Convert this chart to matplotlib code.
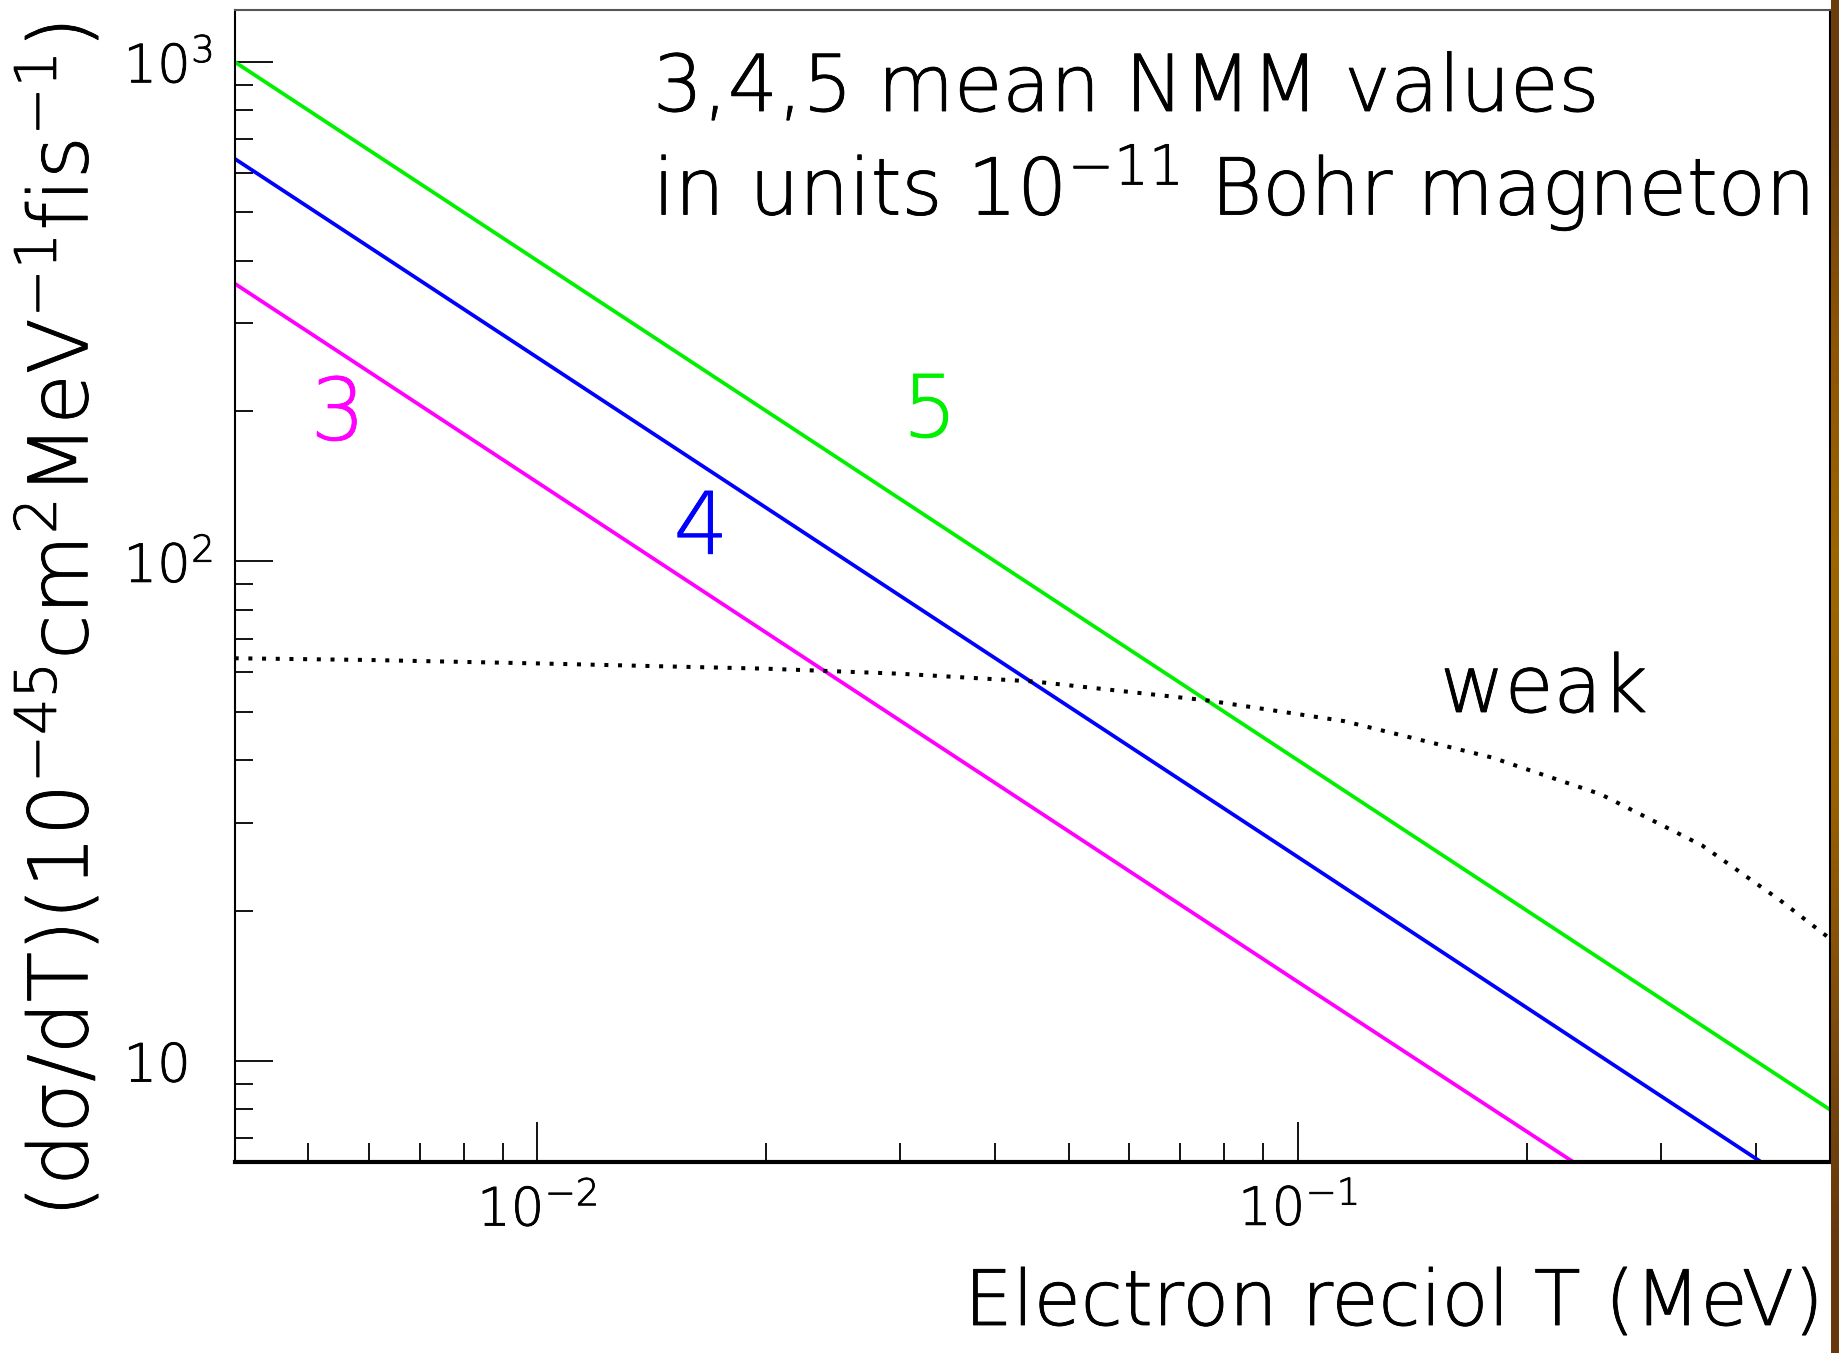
import matplotlib
matplotlib.use("Agg")
import matplotlib.pyplot as plt
import matplotlib.patheffects as pe
import numpy as np
from matplotlib.ticker import LogLocator, NullFormatter, FixedLocator

# data
T_nmm = [0.004, 0.01, 0.1, 0.5]          # electron recoil T (MeV)
nmm5 = [1000, 400, 40, 8.0]               # mu = 5e-11 mu_B
nmm4 = [640, 256, 25.6, 5.1]              # mu = 4e-11 mu_B
nmm3 = [360, 144, 14.4, 2.9]              # mu = 3e-11 mu_B

T_weak = [0.004, 0.006, 0.01, 0.02, 0.03, 0.045, 0.076, 0.115, 0.18, 0.25, 0.34, 0.43, 0.5]
weak = [64, 63.5, 62.5, 61, 59.6, 57.5, 52.7, 47.9, 40.5, 34.2, 27, 21, 17.6]

xticks = [0.01, 0.1]
xticklabels = [r'$10^{-2}$', r'$10^{-1}$']
yticks = [10, 100, 1000]
yticklabels = ['10', r'$10^{2}$', r'$10^{3}$']

plt.rcParams['font.family'] = ['DejaVu Sans']
plt.rcParams['font.weight'] = 'light'   # -> DejaVu Sans ExtraLight
plt.rcParams['mathtext.default'] = 'regular'

# thin font drawn a little heavier
thick = [pe.withStroke(linewidth=0.6, foreground='black')]

fig = plt.figure(figsize=(18.39, 13.53), dpi=100)
ax = fig.add_axes([0.1276, 0.1412, 0.9949 - 0.1276, 0.9926 - 0.1412])

ax.plot(T_nmm, nmm5, color='#00f000', lw=2.7)
ax.plot(T_nmm, nmm4, color='#0000ff', lw=2.7)
ax.plot(T_nmm, nmm3, color='#ff00ff', lw=2.7)
ax.plot(T_weak, weak, color='black', lw=2.9, linestyle=(0, (1, 2.4)))

ax.set_xscale('log')
ax.set_yscale('log')
ax.set_xlim(0.004, 0.5)
ax.set_ylim(6.28, 1270)

ax.xaxis.set_major_locator(FixedLocator(xticks))
ax.set_xticklabels(xticklabels)
ax.xaxis.set_minor_locator(LogLocator(base=10, subs=np.arange(2, 10)))
ax.xaxis.set_minor_formatter(NullFormatter())
ax.yaxis.set_major_locator(FixedLocator(yticks))
ax.set_yticklabels(yticklabels)
ax.yaxis.set_minor_locator(LogLocator(base=10, subs=np.arange(2, 10)))
ax.yaxis.set_minor_formatter(NullFormatter())

ax.tick_params(axis='x', which='major', direction='in', length=29, width=1.3, labelsize=38, pad=16)
ax.tick_params(axis='x', which='minor', direction='in', length=14, width=1.3)
ax.tick_params(axis='y', which='major', direction='in', length=27, width=1.3, labelsize=38, pad=80)
ax.tick_params(axis='y', which='minor', direction='in', length=13, width=1.3)
ax.tick_params(top=False, right=False, which='both')
for lbl in ax.get_yticklabels():
    lbl.set_horizontalalignment('left')
    lbl.set_path_effects(thick)
for lbl in ax.get_xticklabels():
    lbl.set_path_effects(thick)

ax.spines['bottom'].set_linewidth(3.0)
ax.spines['left'].set_linewidth(1.5)
ax.spines['top'].set_linewidth(1.5)
ax.spines['top'].set_color('#555555')
ax.spines['right'].set_linewidth(1.5)

# texts
fig.text(653 / 1839, 1 - 111 / 1353, '3,4,5 mean NMM values',
         fontsize=56.5, ha='left', va='baseline', path_effects=thick)
fig.text(653 / 1839, 1 - 215 / 1353, r'in units $10^{-11}$ Bohr magneton',
         fontsize=56.5, ha='left', va='baseline', path_effects=thick)
fig.text(338 / 1839, 1 - 416 / 1353, '3', color='#ff00ff', fontsize=62, ha='center', va='center',
         path_effects=[pe.withStroke(linewidth=0.6, foreground='#ff00ff')])
fig.text(701 / 1839, 1 - 530 / 1353, '4', color='#0000ff', fontsize=62, ha='center', va='center',
         path_effects=[pe.withStroke(linewidth=0.6, foreground='#0000ff')])
fig.text(930 / 1839, 1 - 413 / 1353, '5', color='#00f000', fontsize=62, ha='center', va='center',
         path_effects=[pe.withStroke(linewidth=0.6, foreground='#00f000')])
fig.text(1440 / 1839, 1 - 712 / 1353, 'weak', fontsize=57, ha='left', va='baseline', path_effects=thick)

fig.text(1824 / 1839, 1 - 1325 / 1353, 'Electron reciol T (MeV)', fontsize=55,
         ha='right', va='baseline', path_effects=thick)
fig.text(60 / 1839, 1 - 620 / 1353, r'(d$\sigma$/dT)($10^{-45}$cm$^{2}$MeV$^{-1}$fis$^{-1}$)',
         fontsize=59, rotation=90, ha='center', va='center', path_effects=thick)

# brownish strip on the right edge
strip = fig.add_axes([1831 / 1839, 0, 8 / 1839, 1])
grad = np.array([[0.42, 0.24, 0.05], [0.55, 0.33, 0.02], [0.62, 0.40, 0.0],
                 [0.60, 0.38, 0.0], [0.50, 0.30, 0.05], [0.40, 0.22, 0.05]])
strip.imshow(grad[:, None, :], aspect='auto', interpolation='bilinear')
strip.axis('off')

fig.savefig('out.png', dpi=100)
